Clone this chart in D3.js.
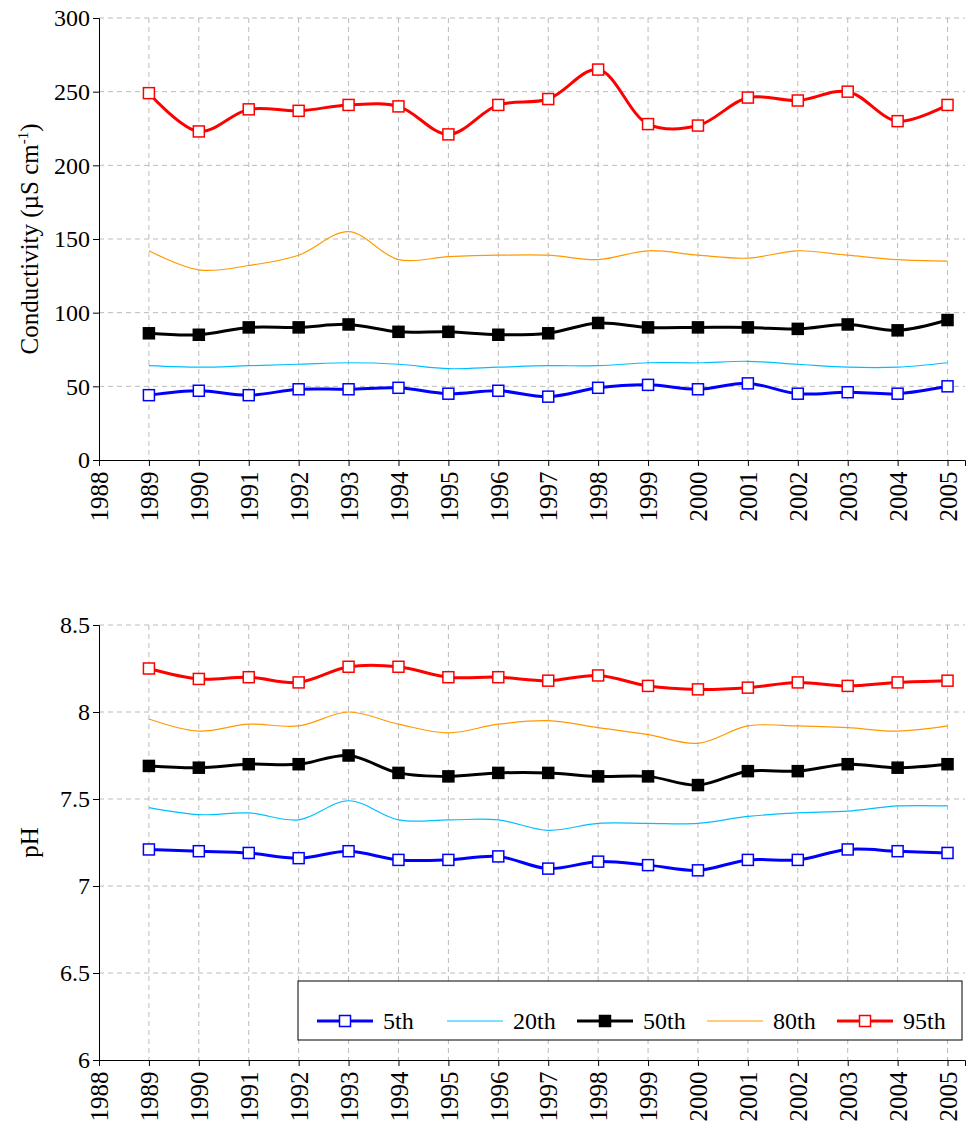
<!DOCTYPE html>
<html><head><meta charset="utf-8">
<script src="https://cdn.jsdelivr.net/npm/d3@7"></script>
<style>body{margin:0;background:#fff}</style>
</head><body><svg id="c" width="967" height="1140"></svg>
<script>
const years = d3.range(1989, 2006);
const xTicks = d3.range(1988, 2006);
const condP5  = [44,47,44,48,48,49,45,47,43,49,51,48,52,45,46,45,50];
const condP20 = [64,63,64,65,66,65,62,63,64,64,66,66,67,65,63,63,66];
const condP50 = [86,85,90,90,92,87,87,85,86,93,90,90,90,89,92,88,95];
const condP80 = [142,129,132,139,155,136,138,139,139,136,142,139,137,142,139,136,135];
const condP95 = [249,223,238,237,241,240,221,241,245,265,228,227,246,244,250,230,241];
const phP5  = [7.21,7.20,7.19,7.16,7.20,7.15,7.15,7.17,7.10,7.14,7.12,7.09,7.15,7.15,7.21,7.20,7.19];
const phP20 = [7.45,7.41,7.42,7.38,7.49,7.38,7.38,7.38,7.32,7.36,7.36,7.36,7.40,7.42,7.43,7.46,7.46];
const phP50 = [7.69,7.68,7.70,7.70,7.75,7.65,7.63,7.65,7.65,7.63,7.63,7.58,7.66,7.66,7.70,7.68,7.70];
const phP80 = [7.96,7.89,7.93,7.92,8.00,7.93,7.88,7.93,7.95,7.91,7.87,7.82,7.92,7.92,7.91,7.89,7.92];
const phP95 = [8.25,8.19,8.20,8.17,8.26,8.26,8.20,8.20,8.18,8.21,8.15,8.13,8.14,8.17,8.15,8.17,8.18];
const seriesNames = ["5th","20th","50th","80th","95th"];
const styles = [
  {color:"#0000ff", width:3, marker:"open"},
  {color:"#00bfff", width:1.2, marker:null},
  {color:"#000000", width:3, marker:"filled"},
  {color:"#ff9900", width:1.2, marker:null},
  {color:"#ff0000", width:3, marker:"open"}
];
const FONT = "'Liberation Serif', 'DejaVu Serif', serif";
const svg = d3.select("#c");
const x = d3.scaleLinear().domain([1988, 2005.35]).range([99, 965]);

function panel(top, bottom, domain, ticks, fmt, data, label, labelSup){
  const y = d3.scaleLinear().domain(domain).range([bottom, top]);
  const g = svg.append("g");
  g.selectAll(".gx").data(xTicks.slice(1)).enter().append("line")
    .attr("x1", d=>x(d)).attr("x2", d=>x(d)).attr("y1", top).attr("y2", bottom)
    .attr("stroke","#bbb").attr("stroke-dasharray","5,4");
  g.selectAll(".gy").data(ticks.slice(1)).enter().append("line")
    .attr("x1", x.range()[0]).attr("x2", x.range()[1]).attr("y1", d=>y(d)).attr("y2", d=>y(d))
    .attr("stroke","#bbb").attr("stroke-dasharray","5,4");
  const ya = g.append("g").attr("transform",`translate(${x.range()[0]},0)`)
    .call(d3.axisLeft(y).tickValues(ticks).tickFormat(fmt).tickSize(6))
    .attr("font-family", FONT);
  ya.selectAll("text").attr("font-size",24).attr("fill","#000");
  const xa = g.append("g").attr("transform",`translate(0,${bottom})`)
    .call(d3.axisBottom(x).tickValues(xTicks).tickFormat(d3.format("d")).tickSize(6))
    .attr("font-family", FONT);
  xa.selectAll("text").attr("font-size",25).attr("fill","#000")
    .attr("transform","rotate(-90)").attr("text-anchor","end").attr("dx","-0.3em").attr("dy","0.35em")
    .attr("y",0).attr("x",-4);
  g.selectAll(".domain").attr("stroke","#000");
  const line = d3.line().x((d,i)=>x(years[i])).y(d=>y(d)).curve(d3.curveCatmullRom.alpha(0.5));
  data.forEach((vals,k)=>{
    const s = styles[k];
    g.append("path").attr("d", line(vals)).attr("fill","none").attr("stroke",s.color).attr("stroke-width",s.width);
    if(s.marker){
      g.selectAll(null).data(vals).enter().append("rect")
        .attr("x",(d,i)=>x(years[i])-5.5).attr("y",d=>y(d)-5.5).attr("width",11).attr("height",11)
        .attr("fill", s.marker==="filled" ? s.color : "#fff").attr("stroke",s.color).attr("stroke-width",1.5);
    }
  });
  const t = g.append("text").attr("transform",`translate(38,${(top+bottom)/2}) rotate(-90)`)
    .attr("text-anchor","middle").attr("font-size",25).attr("font-family", FONT);
  t.append("tspan").text(label);
  if(labelSup){
    t.append("tspan").attr("dy",-10).attr("font-size",15).text(labelSup);
    t.append("tspan").attr("dy",10).text(")");
  }
  return y;
}
panel(18, 460, [0,300], d3.range(0,301,50), d3.format("d"),
  [condP5,condP20,condP50,condP80,condP95], "Conductivity (µS cm", "-1");
panel(625, 1060, [6,8.5], [6,6.5,7,7.5,8,8.5], d=>String(d),
  [phP5,phP20,phP50,phP80,phP95], "pH", null);

const lg = svg.append("g");
lg.append("rect").attr("x",298).attr("y",981).attr("width",664).attr("height",59)
  .attr("fill","#fff").attr("stroke","#000");
seriesNames.forEach((n,k)=>{
  const s = styles[k], x0 = 317 + k*130, yy = 1021;
  lg.append("line").attr("x1",x0).attr("x2",x0+56).attr("y1",yy).attr("y2",yy)
    .attr("stroke",s.color).attr("stroke-width",s.width);
  if(s.marker) lg.append("rect").attr("x",x0+22.5).attr("y",yy-5.5).attr("width",11).attr("height",11)
    .attr("fill", s.marker==="filled"?s.color:"#fff").attr("stroke",s.color).attr("stroke-width",1.5);
  lg.append("text").attr("x",x0+66).attr("y",yy+8).attr("font-size",24).attr("font-family", FONT).text(n);
});
</script></body></html>
